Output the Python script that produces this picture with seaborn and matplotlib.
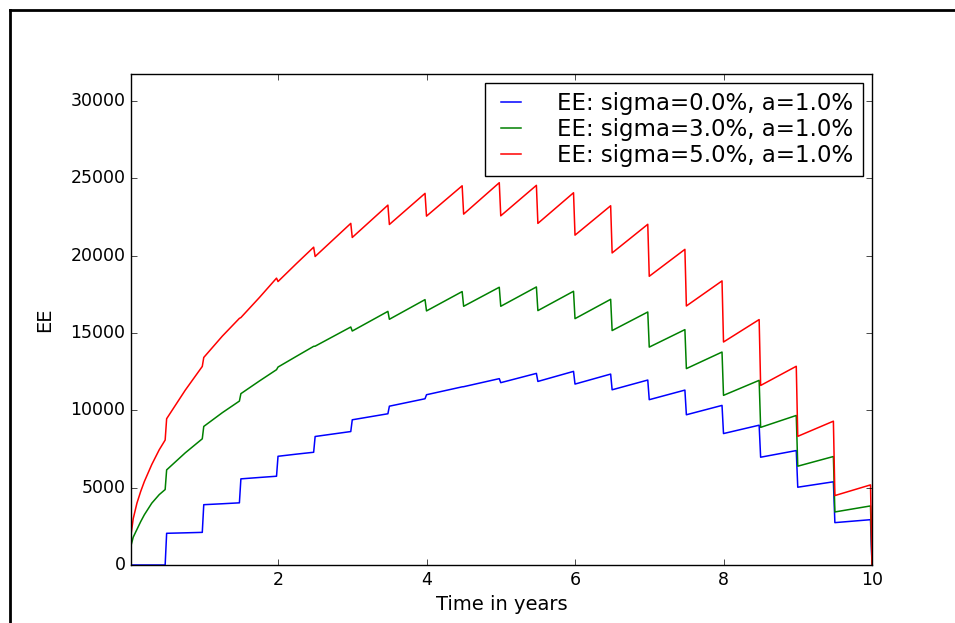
import matplotlib
matplotlib.use("Agg")
import matplotlib.pyplot as plt
from matplotlib.lines import Line2D
import pandas as pd
import seaborn as sns

# time grid (years): jumps happen every half year
t = [0.02, 0.05, 0.1, 0.15, 0.2, 0.3, 0.4, 0.48,
     0.5, 0.75, 0.98, 1.0, 1.25, 1.48, 1.5, 1.75, 1.98,
     2.0, 2.25, 2.48, 2.5, 2.98, 3.0, 3.48, 3.5, 3.98,
     4.0, 4.48, 4.5, 4.98, 5.0, 5.48, 5.5, 5.98,
     6.0, 6.48, 6.5, 6.98, 7.0, 7.48, 7.5, 7.98,
     8.0, 8.48, 8.5, 8.98, 9.0, 9.48, 9.5, 9.98, 10.0]

ee_sigma0 = [0, 0, 0, 0, 0, 0, 0, 0,
             2050, 2080, 2110, 3900, 3960, 4020, 5570, 5660, 5740,
             7030, 7170, 7290, 8310, 8630, 9390, 9780, 10270, 10750,
             11010, 11520, 11530, 12050, 11790, 12390, 11870, 12520,
             11700, 12345, 11330, 11960, 10690, 11310, 9715, 10320,
             8500, 9040, 6970, 7400, 5030, 5380, 2740, 2930, 0]

ee_sigma3 = [1250, 1800, 2300, 2800, 3250, 4000, 4550, 4880,
             6150, 7250, 8160, 8960, 9850, 10600, 11080, 11900, 12630,
             12800, 13500, 14140, 14150, 15390, 15130, 16400, 15890, 17160,
             16430, 17680, 16730, 17960, 16730, 17980, 16450, 17700,
             15930, 17180, 15160, 16360, 14090, 15220, 12700, 13770,
             10970, 11940, 8900, 9670, 6390, 7015, 3430, 3820, 0]

ee_sigma5 = [1950, 3000, 4000, 4750, 5400, 6500, 7450, 8080,
             9460, 11300, 12840, 13420, 14800, 15950, 16000, 17300, 18550,
             18330, 19500, 20550, 19950, 22090, 21180, 23270, 22020, 24030,
             22560, 24520, 22690, 24720, 22580, 24550, 22090, 24070,
             21330, 23230, 20180, 22030, 18670, 20410, 16750, 18370,
             14420, 15870, 11610, 12850, 8320, 9300, 4490, 5180, 0]

labels = ["EE: sigma=0.0%, a=1.0%",
          "EE: sigma=3.0%, a=1.0%",
          "EE: sigma=5.0%, a=1.0%"]

df = pd.DataFrame({
    "t": t * 3,
    "EE": ee_sigma0 + ee_sigma3 + ee_sigma5,
    "series": [labels[0]] * len(t) + [labels[1]] * len(t) + [labels[2]] * len(t),
})

plt.style.use("classic")
plt.rcParams["font.family"] = ["DejaVu Sans"]

fig = plt.figure(figsize=(9.55, 6.23), dpi=100, facecolor="white")
ax = fig.add_axes([131 / 955, 1 - 565 / 623, (872 - 131) / 955, (565 - 74) / 623])

sns.lineplot(data=df, x="t", y="EE", hue="series", hue_order=labels,
             palette=["#0000ff", "#008000", "#ff0000"], estimator=None,
             sort=False, legend=False, linewidth=1.1, ax=ax)

ax.set_xlim(0.02, 10)
ax.set_ylim(0, 31750)
ax.set_xticks([2, 4, 6, 8, 10])
ax.set_yticks([0, 5000, 10000, 15000, 20000, 25000, 30000])
ax.set_xlabel("Time in years", fontsize=14)
ax.set_ylabel("EE", fontsize=14, labelpad=12)
ax.tick_params(labelsize=12.5)
ax.tick_params(axis="y", pad=4)

ax.legend(handles=ax.get_lines(), labels=labels, loc="upper right",
          fontsize=16.5, frameon=True, fancybox=False,
          handlelength=1.45, handletextpad=1.3, labelspacing=0.12,
          borderpad=0.4, borderaxespad=0.4)

# outer frame of the screenshot
fig.add_artist(Line2D([10 / 955, 1], [1 - 10 / 623, 1 - 10 / 623], color="black", lw=2, transform=fig.transFigure))
fig.add_artist(Line2D([10 / 955, 10 / 955], [0, 1 - 10 / 623], color="black", lw=2, transform=fig.transFigure))

fig.savefig("out.png", dpi=100, facecolor="white")
